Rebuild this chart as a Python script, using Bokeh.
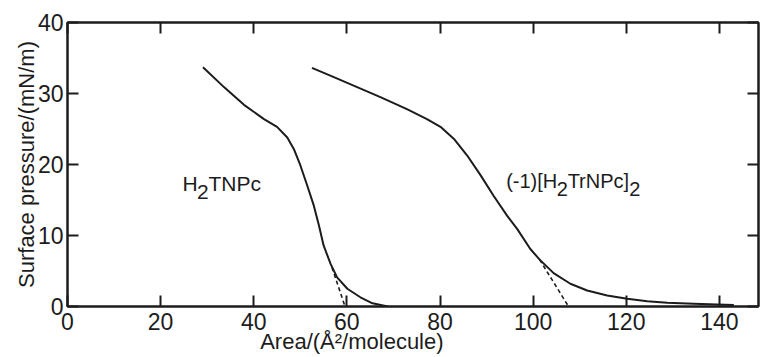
from bokeh.plotting import figure
from bokeh.models import LinearAxis, FixedTicker, Label
from bokeh.embed import file_html
from bokeh.resources import INLINE

# ---- data ----
h2tnpc_area = [29.1, 33.6, 37.9, 42.2, 45.0, 47.2, 48.6, 50.0, 51.5, 52.9, 54.0, 55.0, 56.5, 57.9,
               60.1, 62.9, 65.5, 68.8]
h2tnpc_pressure = [33.7, 30.9, 28.4, 26.4, 25.3, 23.8, 22.2, 19.9, 17.0, 14.2, 11.4, 8.6, 6.0, 4.1,
                   2.5, 1.3, 0.45, 0.0]
h2tnpc_extrap_area = [56.8, 59.6]
h2tnpc_extrap_pressure = [5.5, 0.0]

dimer_area = [52.5, 57.2, 62.2, 67.2, 72.9, 77.2, 80.1, 83.0, 85.8, 88.7, 91.5, 94.4, 96.6, 99.4,
              101.4, 104.4, 108.0, 111.6, 115.9, 120.2, 124.5, 128.8, 134.5, 139.5, 143.1]
dimer_pressure = [33.6, 32.3, 30.9, 29.5, 27.8, 26.4, 25.3, 23.6, 21.3, 18.5, 15.6, 12.8, 10.9, 8.1,
                  6.6, 4.7, 3.2, 2.25, 1.55, 1.08, 0.75, 0.52, 0.38, 0.28, 0.2]
dimer_extrap_area = [101.4, 107.6]
dimer_extrap_pressure = [6.6, 0.0]

x_ticks = [0, 20, 40, 60, 80, 100, 120, 140]
y_ticks = [0, 10, 20, 30, 40]

x_title = "Area/(Å²/molecule)"
y_title = "Surface pressure/(mN/m)"

FONT = "Liberation Sans"
INK = "#1c1c1c"
NBSP = "\u00a0"

p = figure(width=761, height=357, x_range=(0, 148.4), y_range=(0, 40),
           output_backend="svg", toolbar_location=None,
           min_border_left=67, min_border_right=3, min_border_top=22, min_border_bottom=51)
p.grid.visible = False
p.outline_line_color = INK
p.outline_line_width = 2
p.background_fill_color = "white"
p.border_fill_color = "white"

def style_axis(ax, ticks, show_labels=True):
    ax.ticker = FixedTicker(ticks=ticks)
    ax.minor_tick_line_color = None
    ax.major_tick_in = 11
    ax.major_tick_out = 0
    ax.major_tick_line_width = 2
    ax.major_tick_line_color = INK
    ax.axis_line_width = 2
    ax.axis_line_color = INK
    if show_labels:
        ax.major_label_text_font = FONT
        ax.major_label_text_font_size = "23px"
        ax.major_label_text_color = INK
    else:
        ax.major_label_overrides = {t: "" for t in ticks}
        ax.major_label_text_font_size = "0px"
        ax.major_label_standoff = 0

style_axis(p.xaxis[0], x_ticks)
style_axis(p.yaxis[0], y_ticks)
p.xaxis[0].major_label_standoff = 6
p.yaxis[0].major_label_standoff = 4

p.yaxis[0].axis_label = y_title
p.yaxis[0].axis_label_text_font = FONT
p.yaxis[0].axis_label_text_font_size = "22px"
p.yaxis[0].axis_label_text_font_style = "normal"
p.yaxis[0].axis_label_text_color = INK
p.yaxis[0].axis_label_standoff = -4

# the original's x title sits left of the frame centre: pad it on the right
p.xaxis[0].axis_label = x_title + NBSP * 20
p.xaxis[0].axis_label_text_font = FONT
p.xaxis[0].axis_label_text_font_size = "22px"
p.xaxis[0].axis_label_text_font_style = "normal"
p.xaxis[0].axis_label_text_color = INK
p.xaxis[0].axis_label_standoff = -4

top = LinearAxis()
style_axis(top, x_ticks, show_labels=False)
p.add_layout(top, "above")
right = LinearAxis()
style_axis(right, y_ticks, show_labels=False)
p.add_layout(right, "right")

# curves
p.line(h2tnpc_area, h2tnpc_pressure, line_color=INK, line_width=2, line_join="round")
p.line(dimer_area, dimer_pressure, line_color=INK, line_width=2, line_join="round")
p.line(h2tnpc_extrap_area, h2tnpc_extrap_pressure, line_color=INK, line_width=1.6, line_dash="4 3")
p.line(dimer_extrap_area, dimer_extrap_pressure, line_color=INK, line_width=1.6, line_dash="4 3")

def chem_label(x, y, size, pieces):
    off = 0.0
    for txt, sub, width in pieces:
        p.add_layout(Label(x=x, y=y, x_offset=off, y_offset=(-8 if sub else 0), text=txt,
                           text_align="left", text_baseline="alphabetic",
                           text_font=FONT, text_font_size=size, text_color=INK))
        off += width

chem_label(24.7, 17.3, "21px", [("H", False, 14.5), ("2", True, 11.5), ("TNPc", False, 0)])
chem_label(94.2, 17.7, "20px", [("(-1)[H", False, 50.5), ("2", True, 11.0), ("TrNPc]", False, 61.5), ("2", True, 0)])

open("out.html", "w").write(file_html(p, INLINE))
